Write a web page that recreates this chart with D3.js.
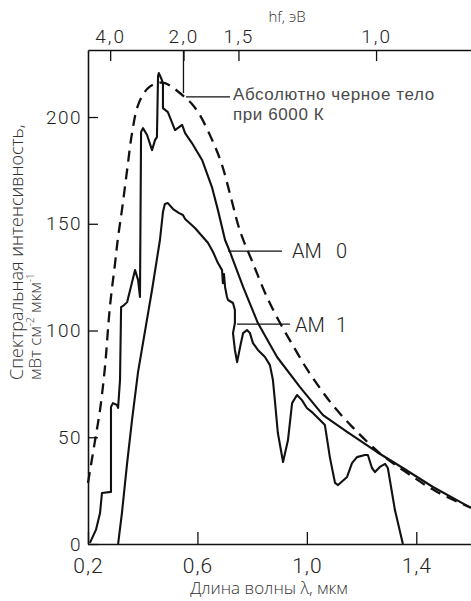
<!DOCTYPE html>
<html>
<head>
<meta charset="utf-8">
<script src="https://cdn.jsdelivr.net/npm/d3@7"></script>
<style>
body { margin: 0; background: #fff; }
svg { display: block; }
.num { font-family: Roboto, "Liberation Sans", sans-serif; font-weight: 300; fill: #222; }
.lbl { font-family: "Open Sans", "Noto Sans", sans-serif; font-weight: 300; fill: #333; }
.note { font-family: "Liberation Sans", Arial, sans-serif; fill: #4a4a4a; }
</style>
</head>
<body>
<svg id="chart" width="471" height="601"></svg>
<script>
// black body at 6000 K (dashed), wavelength in um, intensity in mW cm-2 um-1
var bbWl  = [0.200,0.226,0.244,0.262,0.280,0.299,0.310,0.324,0.343,0.361,0.383,0.416,0.452,0.481,0.518,0.555,0.580,0.609,0.657,0.690,0.723,0.756,0.803,0.854,0.902,0.949,1.000,1.048,1.095,1.165,1.267,1.366,1.476,1.600];
var bbVal = [28.6,48.7,62.8,82.9,111.0,131.6,143.8,156.4,175.2,192.5,205.6,213.1,215.9,215.9,213.1,209.1,206.1,200.9,188.3,177.5,162.0,146.5,131.5,115.7,103.5,93.0,82.0,73.0,65.0,55.0,42.5,33.3,24.4,17.0];

// AM 0 spectrum
var am0Wl  = [0.207,0.229,0.244,0.251,0.284,0.284,0.291,0.306,0.310,0.317,0.321,0.332,0.343,0.354,0.372,0.383,0.390,0.394,0.401,0.416,0.434,0.445,0.452,0.456,0.459,0.467,0.474,0.474,0.492,0.518,0.544,0.555,0.580,0.617,0.653,0.675,0.701,0.719,0.767,0.821,0.891,0.975,1.059,1.147,1.256,1.351,1.461,1.600];
var am0Val = [0.5,6.6,14.5,23.9,24.4,64.2,66.0,65.1,63.7,76.8,111.0,111.9,113.3,119.0,128.3,123.7,115.7,193.0,194.8,191.6,184.5,189.2,190.6,219.2,220.6,218.3,215.9,204.2,202.3,193.9,196.3,192.5,187.8,179.9,167.2,156.4,142.4,136.8,120.4,103.5,87.6,73.5,60.4,52.5,43.1,35.6,26.7,16.9];

// AM 1 spectrum
var am1Wl  = [0.310,0.324,0.343,0.361,0.383,0.434,0.463,0.474,0.481,0.492,0.511,0.533,0.547,0.555,0.591,0.639,0.657,0.675,0.690,0.693,0.697,0.701,0.708,0.712,0.730,0.737,0.737,0.730,0.737,0.745,0.756,0.767,0.781,0.792,0.803,0.821,0.847,0.865,0.876,0.883,0.894,0.913,0.931,0.946,0.964,0.982,1.000,1.022,1.048,1.066,1.084,1.103,1.114,1.147,1.165,1.183,1.212,1.223,1.238,1.249,1.267,1.286,1.296,1.322,1.351];
var am1Val = [0,14.5,37.9,58.1,80.6,119.0,142.4,155.5,159.3,159.7,156.9,155.0,154.1,152.2,148.0,141.0,136.8,131.6,128.3,122.2,126.5,120.4,115.7,114.3,112.9,109.6,103.5,98.8,90.9,85.2,92.3,98.8,100.2,98.8,94.1,90.9,87.6,83.8,76.8,67.4,52.0,38.4,48.7,66.0,69.8,67.4,63.7,61.4,58.1,55.7,40.7,28.6,27.6,31.4,37.9,40.7,41.7,41.7,35.6,33.7,36.1,37.5,35.6,15.9,0];

// axes
var yTicks = [0, 50, 100, 150, 200];
var xTicks = [0.2, 0.6, 1.0, 1.4];
var xTickLabels = ["0,2", "0,6", "1,0", "1,4"];
// photon energy scale on top, placed at the wavelengths where the figure puts them
var topTickWl = [0.281, 0.549, 0.750, 1.253];
var topTickLabels = ["4,0", "2,0", "1,5", "1,0"];

var svg = d3.select('#chart');

var x = d3.scaleLinear().domain([0.2, 1.6]).range([88, 471]);
var y = d3.scaleLinear().domain([0, 231.4]).range([544, 50]);

function pts(wl, val) {
    return wl.map(function(d, i) { return [d, val[i]]; });
}

var line = d3.line()
    .x(function(d) { return x(d[0]); })
    .y(function(d) { return y(d[1]); });

var smooth = d3.line()
    .x(function(d) { return x(d[0]); })
    .y(function(d) { return y(d[1]); })
    .curve(d3.curveCatmullRom.alpha(0.5));

// axes
var leftAxis = svg.append('g')
    .attr('transform', 'translate(' + x(0.2) + ',0)')
    .call(d3.axisLeft(y).tickValues(yTicks).tickSize(-10).tickSizeOuter(0).tickPadding(6));
var bottomAxis = svg.append('g')
    .attr('transform', 'translate(0,' + y(0) + ')')
    .call(d3.axisBottom(x).tickValues(xTicks).tickSize(-12).tickSizeOuter(0).tickPadding(14)
        .tickFormat(function(d, i) { return xTickLabels[i]; }));
var topAxis = svg.append('g')
    .attr('transform', 'translate(0,' + y(231.4) + ')')
    .call(d3.axisTop(x).tickValues(topTickWl).tickSize(-11).tickSizeOuter(0).tickPadding(7)
        .tickFormat(function(d, i) { return topTickLabels[i]; }));

[leftAxis, bottomAxis, topAxis].forEach(function(a) {
    a.selectAll('path').attr('stroke', '#111').attr('stroke-width', 1.6);
    a.selectAll('line').attr('stroke', '#111').attr('stroke-width', 1.3);
    a.selectAll('text').attr('class', 'num').attr('fill', '#222');
});
leftAxis.selectAll('text').style('font-size', '19px').style('letter-spacing', '1.5px');
bottomAxis.selectAll('text').style('font-size', '21px').style('letter-spacing', '1px');
topAxis.selectAll('text').style('font-size', '19px').style('letter-spacing', '2px');

// curves
svg.append('path')
    .attr('d', smooth(pts(bbWl, bbVal)))
    .attr('fill', 'none').attr('stroke', '#111').attr('stroke-width', 2.3)
    .attr('stroke-dasharray', '11,7');
svg.append('path')
    .attr('d', line(pts(am0Wl, am0Val)))
    .attr('fill', 'none').attr('stroke', '#111').attr('stroke-width', 2.1)
    .attr('stroke-linejoin', 'round');
svg.append('path')
    .attr('d', line(pts(am1Wl, am1Val)))
    .attr('fill', 'none').attr('stroke', '#111').attr('stroke-width', 2.1)
    .attr('stroke-linejoin', 'round');

// leader lines
var leaders = [
    [[0.549, 231.4], [0.549, 211.2]],
    [[0.558, 209.4], [0.719, 209.4]],
    [[0.712, 137.2], [0.909, 137.2]],
    [[0.745, 103.0], [0.938, 103.0]]
];
svg.selectAll('.leader').data(leaders).enter().append('path')
    .attr('class', 'leader')
    .attr('d', line)
    .attr('fill', 'none').attr('stroke', '#111').attr('stroke-width', 1.3);

// labels
svg.append('text').attr('class', 'note')
    .attr('x', x(0.730)).attr('y', y(207.8))
    .style('font-size', '17px').style('letter-spacing', '0.6px')
    .text('Абсолютно черное тело');
svg.append('text').attr('class', 'note')
    .attr('x', x(0.730)).attr('y', y(198.8))
    .style('font-size', '17px').style('letter-spacing', '0.6px')
    .text('при 6000 К');

var am0Text = svg.append('text').attr('class', 'num')
    .attr('x', x(0.946)).attr('y', y(134))
    .style('font-size', '20px')
    .text('AM');
am0Text.append('tspan').attr('dx', 14).text('0');
var am1Text = svg.append('text').attr('class', 'num')
    .attr('x', x(0.957)).attr('y', y(99.3))
    .style('font-size', '20px')
    .text('AM');
am1Text.append('tspan').attr('dx', 11).text('1');

svg.append('text').attr('class', 'lbl')
    .attr('x', 287).attr('y', 22)
    .attr('text-anchor', 'middle')
    .style('font-size', '15px')
    .text('hf, эВ');

svg.append('text').attr('class', 'lbl')
    .attr('x', 269).attr('y', 594)
    .attr('text-anchor', 'middle')
    .style('font-size', '17px')
    .text('Длина волны λ, мкм');

svg.append('text').attr('class', 'lbl')
    .attr('transform', 'translate(23,380) rotate(-90)')
    .style('font-size', '18px')
    .text('Спектральная интенсивность,');
var unit = svg.append('text').attr('class', 'lbl')
    .attr('transform', 'translate(41,380) rotate(-90)')
    .style('font-size', '17px')
    .text('мВт см');
unit.append('tspan').attr('dy', -7).style('font-size', '10px').text('-2');
unit.append('tspan').attr('dy', 7).text(' мкм');
unit.append('tspan').attr('dy', -7).style('font-size', '10px').text('-1');
</script>
</body>
</html>
